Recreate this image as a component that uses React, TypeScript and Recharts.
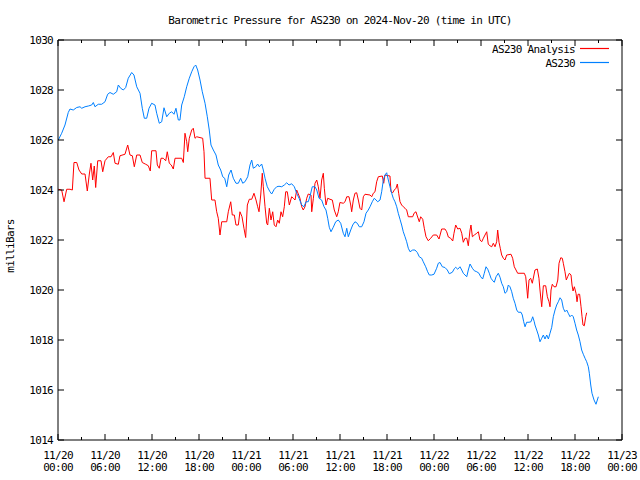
import { LineChart, Line, XAxis, YAxis } from "recharts";

const FONT = "'DejaVu Sans Mono', 'Liberation Mono', monospace";

// [hours since 11/20 00:00 UTC, millibars]
const analysis: [number, number][] = [
  [0.04, 1024.03], [0.47, 1024.0], [0.77, 1023.53], [1.11, 1024.03], [1.53, 1024.03], [1.83, 1024.0],
  [2.04, 1025.1], [2.39, 1025.1], [2.68, 1024.8], [3.03, 1024.64], [3.45, 1024.64], [3.74, 1023.96],
  [4.0, 1024.64], [4.21, 1025.07], [4.43, 1024.4], [4.63, 1024.96], [4.81, 1024.1], [5.07, 1025.17],
  [5.49, 1025.17], [5.71, 1024.73], [6.0, 1025.17], [6.42, 1025.33], [6.77, 1025.33], [7.06, 1025.5],
  [7.28, 1025.07], [7.7, 1025.03], [7.91, 1025.37], [8.55, 1025.43], [8.9, 1025.8], [9.19, 1025.4],
  [9.49, 1025.37], [9.74, 1024.93], [10.05, 1025.4], [10.47, 1025.4], [10.76, 1025.1], [11.2, 1025.03],
  [11.53, 1024.97], [11.78, 1024.76], [11.96, 1025.57], [12.51, 1025.57], [12.68, 1025.0], [12.93, 1024.87],
  [13.15, 1025.27], [13.44, 1025.27], [13.75, 1025.17], [13.95, 1025.53], [14.21, 1025.07], [14.46, 1025.0],
  [14.72, 1024.84], [14.94, 1025.27], [15.79, 1025.27], [16.0, 1025.1], [16.21, 1026.27], [16.43, 1025.93],
  [16.56, 1025.53], [16.76, 1026.07], [17.07, 1026.4], [17.27, 1026.47], [17.49, 1026.07], [17.71, 1026.13],
  [18.47, 1026.07], [18.64, 1025.53], [18.77, 1024.47], [19.4, 1024.47], [19.62, 1023.6], [20.04, 1023.6],
  [20.26, 1023.13], [20.46, 1022.87], [20.68, 1022.2], [20.9, 1022.73], [21.54, 1022.73], [21.74, 1023.13],
  [22.05, 1023.53], [22.25, 1023.0], [22.51, 1023.0], [22.72, 1022.6], [23.02, 1022.6], [23.23, 1023.13],
  [23.49, 1022.93], [23.74, 1022.47], [23.96, 1022.1], [24.17, 1023.4], [24.42, 1023.63], [24.73, 1023.63],
  [25.02, 1023.87], [25.28, 1023.6], [25.49, 1023.33], [25.66, 1023.13], [25.88, 1023.8], [26.08, 1024.67],
  [26.21, 1024.13], [26.43, 1023.33], [26.64, 1022.67], [26.77, 1022.6], [26.98, 1023.27], [27.19, 1022.8],
  [27.41, 1023.13], [27.61, 1022.6], [27.83, 1022.53], [28.04, 1022.8], [28.25, 1022.67], [28.47, 1023.13],
  [28.68, 1022.93], [28.89, 1023.33], [29.07, 1023.93], [29.27, 1023.93], [29.53, 1023.4], [29.83, 1023.73],
  [30.04, 1023.67], [30.26, 1023.6], [30.47, 1024.0], [30.68, 1023.84], [30.89, 1023.67], [31.11, 1023.33],
  [31.31, 1023.2], [31.53, 1023.33], [31.75, 1023.67], [31.95, 1023.84], [32.3, 1023.8], [32.39, 1023.13],
  [32.6, 1023.67], [32.81, 1024.27], [33.03, 1024.4], [33.23, 1024.13], [33.45, 1023.67], [33.66, 1024.4],
  [33.87, 1024.67], [34.0, 1024.07], [34.21, 1023.4], [34.43, 1023.67], [34.72, 1023.63], [35.02, 1023.6],
  [35.27, 1023.2], [35.58, 1022.93], [35.78, 1023.13], [35.99, 1023.5], [36.42, 1023.47], [36.64, 1023.53],
  [36.86, 1023.73], [37.15, 1023.73], [37.37, 1023.4], [37.49, 1023.13], [37.7, 1023.6], [37.91, 1023.87],
  [38.13, 1023.89], [38.34, 1023.6], [38.55, 1023.27], [38.77, 1023.2], [38.98, 1023.73], [39.19, 1023.83],
  [39.83, 1023.8], [40.05, 1023.73], [40.25, 1023.87], [40.47, 1023.93], [40.68, 1024.33], [40.89, 1024.53],
  [41.4, 1024.56], [41.58, 1024.27], [41.74, 1024.6], [42.38, 1024.56], [42.51, 1023.93], [42.73, 1023.89],
  [42.93, 1024.0], [43.15, 1024.07], [43.32, 1024.24], [43.49, 1023.87], [43.66, 1023.53], [43.87, 1023.4],
  [44.08, 1023.33], [44.3, 1023.27], [44.51, 1023.2], [44.72, 1022.93], [45.28, 1022.93], [45.45, 1023.07],
  [45.7, 1023.13], [45.87, 1022.96], [46.12, 1022.73], [46.3, 1022.93], [46.56, 1022.83], [46.76, 1022.47],
  [46.98, 1022.13], [47.27, 1021.97], [47.58, 1022.07], [47.91, 1022.2], [48.34, 1022.2], [48.64, 1022.04],
  [48.98, 1022.44], [49.4, 1022.44], [49.62, 1022.33], [49.83, 1022.12], [50.13, 1022.07], [50.39, 1021.96],
  [50.55, 1022.27], [50.77, 1022.6], [51.03, 1022.44], [51.32, 1022.47], [51.54, 1022.27], [51.74, 1021.91],
  [51.96, 1022.07], [52.18, 1022.07], [52.38, 1021.77], [52.6, 1022.4], [52.72, 1022.6], [52.9, 1022.13],
  [53.15, 1022.2], [53.46, 1022.27], [53.66, 1022.33], [53.87, 1022.0], [54.09, 1021.93], [54.3, 1022.07],
  [54.51, 1022.2], [54.73, 1022.33], [54.93, 1021.83], [55.15, 1021.77], [55.37, 1021.73], [55.57, 1021.87],
  [55.79, 1021.73], [56.0, 1021.93], [56.13, 1022.4], [56.3, 1021.91], [56.46, 1021.67], [56.64, 1021.4],
  [56.85, 1021.27], [57.06, 1021.2], [57.28, 1021.4], [57.83, 1021.43], [58.04, 1021.27], [58.25, 1020.93],
  [58.47, 1020.8], [58.68, 1020.67], [59.53, 1020.67], [59.71, 1020.53], [59.87, 1020.0], [59.96, 1019.67],
  [60.13, 1020.4], [60.34, 1020.47], [60.55, 1020.27], [60.89, 1020.8], [61.19, 1020.84], [61.4, 1020.47],
  [61.53, 1020.0], [61.75, 1019.33], [61.96, 1020.17], [62.26, 1020.17], [62.47, 1019.73], [62.68, 1019.53],
  [62.81, 1019.33], [62.94, 1020.0], [63.1, 1020.23], [63.32, 1020.13], [63.58, 1020.13], [63.8, 1020.4],
  [63.96, 1021.07], [64.18, 1021.29], [64.38, 1021.27], [64.51, 1021.07], [64.72, 1020.73], [64.89, 1020.4],
  [65.06, 1020.53], [65.28, 1020.67], [65.49, 1020.6], [65.62, 1020.2], [65.75, 1019.96], [65.92, 1020.13],
  [66.13, 1019.87], [66.26, 1019.53], [66.39, 1019.83], [66.59, 1019.83], [66.77, 1019.33], [66.9, 1018.93],
  [67.02, 1018.6], [67.19, 1018.57], [67.37, 1018.93], [67.49, 1019.09],
];

const observed: [number, number][] = [
  [0.04, 1026.0], [0.47, 1026.27], [0.89, 1026.6], [1.31, 1027.1], [1.53, 1027.24], [1.95, 1027.2],
  [2.39, 1027.3], [2.81, 1027.33], [3.03, 1027.27], [3.45, 1027.33], [3.87, 1027.36], [4.3, 1027.4],
  [4.51, 1027.5], [4.72, 1027.33], [5.14, 1027.43], [5.58, 1027.43], [6.0, 1027.53], [6.34, 1027.83],
  [6.64, 1027.9], [7.06, 1027.83], [7.49, 1027.93], [7.7, 1028.2], [8.0, 1028.07], [8.34, 1028.0],
  [8.64, 1028.1], [8.97, 1028.47], [9.41, 1028.7], [9.7, 1028.6], [10.05, 1028.13], [10.47, 1027.87],
  [10.76, 1027.27], [11.02, 1026.87], [11.32, 1026.87], [11.62, 1027.27], [11.96, 1027.47], [12.38, 1027.4],
  [12.6, 1027.07], [12.93, 1026.67], [13.24, 1026.73], [13.53, 1027.29], [13.88, 1026.93], [14.21, 1027.07],
  [14.51, 1027.13], [14.81, 1027.03], [15.06, 1027.27], [15.36, 1026.8], [15.57, 1026.8], [15.79, 1027.4],
  [16.12, 1027.73], [16.43, 1028.13], [16.76, 1028.47], [17.07, 1028.73], [17.36, 1028.93], [17.58, 1029.0],
  [17.83, 1028.8], [18.13, 1028.4], [18.42, 1027.93], [18.77, 1027.47], [19.06, 1026.93], [19.31, 1026.4],
  [19.53, 1025.8], [19.83, 1025.6], [20.17, 1025.4], [20.46, 1025.0], [20.77, 1024.8], [21.03, 1024.53],
  [21.28, 1024.47], [21.54, 1024.13], [21.79, 1024.6], [22.09, 1024.8], [22.38, 1024.47], [22.72, 1024.27],
  [23.02, 1024.27], [23.32, 1024.47], [23.58, 1024.27], [23.87, 1024.33], [24.22, 1024.53], [24.51, 1025.0],
  [24.73, 1025.2], [24.93, 1024.87], [25.24, 1024.93], [25.49, 1025.04], [25.7, 1024.93], [26.0, 1025.04],
  [26.21, 1024.8], [26.43, 1024.47], [26.72, 1024.13], [27.06, 1023.93], [27.28, 1023.84], [27.61, 1024.03],
  [27.92, 1024.13], [28.21, 1024.15], [28.56, 1024.13], [28.89, 1024.2], [29.2, 1024.29], [29.49, 1024.2],
  [29.83, 1024.25], [30.17, 1024.13], [30.47, 1023.87], [30.77, 1023.67], [31.11, 1023.4], [31.4, 1023.33],
  [31.66, 1023.53], [31.95, 1023.53], [32.21, 1023.8], [32.46, 1024.13], [32.81, 1024.13], [33.03, 1024.0],
  [33.32, 1023.67], [33.66, 1023.6], [33.96, 1023.33], [34.21, 1023.2], [34.43, 1022.87], [34.63, 1022.51],
  [34.85, 1022.33], [35.14, 1022.51], [35.45, 1022.73], [35.78, 1022.8], [36.09, 1022.67], [36.42, 1022.27],
  [36.64, 1022.13], [36.86, 1022.47], [37.06, 1022.13], [37.37, 1022.4], [37.62, 1022.6], [37.91, 1022.73],
  [38.21, 1022.67], [38.46, 1022.53], [38.77, 1022.53], [39.06, 1022.73], [39.32, 1023.07], [39.61, 1023.2],
  [39.83, 1023.33], [40.12, 1023.53], [40.38, 1023.67], [40.6, 1023.6], [40.81, 1023.53], [41.11, 1023.6],
  [41.32, 1023.93], [41.53, 1024.4], [41.74, 1024.6], [41.96, 1024.69], [42.17, 1024.4], [42.38, 1024.13],
  [42.6, 1023.87], [42.8, 1023.67], [43.02, 1023.53], [43.24, 1023.33], [43.44, 1023.07], [43.66, 1022.83],
  [43.87, 1022.6], [44.08, 1022.33], [44.3, 1022.13], [44.51, 1021.93], [44.72, 1021.67], [44.94, 1021.53],
  [45.28, 1021.6], [45.57, 1021.6], [45.87, 1021.5], [46.12, 1021.33], [46.43, 1021.27], [46.63, 1021.13],
  [46.94, 1020.93], [47.19, 1020.73], [47.4, 1020.6], [47.7, 1020.6], [48.0, 1020.63], [48.34, 1020.87],
  [48.55, 1021.07], [48.77, 1021.1], [49.06, 1020.93], [49.4, 1020.9], [49.7, 1020.8], [49.95, 1020.65],
  [50.34, 1020.71], [50.59, 1020.85], [50.77, 1020.91], [51.03, 1020.83], [51.32, 1020.93], [51.54, 1020.8],
  [51.74, 1020.67], [51.96, 1020.6], [52.18, 1020.53], [52.38, 1020.8], [52.6, 1021.04], [52.9, 1020.87],
  [53.15, 1020.77], [53.46, 1020.73], [53.74, 1020.67], [53.96, 1020.53], [54.21, 1020.44], [54.42, 1020.67],
  [54.64, 1020.93], [54.86, 1020.83], [55.06, 1020.67], [55.28, 1020.47], [55.5, 1020.37], [55.7, 1020.31],
  [55.92, 1020.53], [56.21, 1020.67], [56.43, 1020.51], [56.64, 1020.27], [56.85, 1020.13], [57.06, 1019.87],
  [57.28, 1019.93], [57.49, 1020.2], [57.7, 1020.13], [57.92, 1019.93], [58.12, 1019.67], [58.34, 1019.47],
  [58.56, 1019.2], [58.76, 1019.11], [59.11, 1019.11], [59.27, 1019.0], [59.45, 1018.73], [59.62, 1018.53],
  [59.83, 1018.71], [60.13, 1018.71], [60.38, 1018.73], [60.6, 1018.93], [60.8, 1018.73], [60.89, 1018.6],
  [61.11, 1018.4], [61.32, 1018.2], [61.53, 1017.93], [61.75, 1018.07], [61.96, 1018.2], [62.17, 1018.04],
  [62.39, 1018.2], [62.6, 1018.04], [62.81, 1018.27], [63.03, 1018.51], [63.23, 1018.93], [63.45, 1019.2],
  [63.66, 1019.4], [63.87, 1019.53], [64.09, 1019.69], [64.3, 1019.6], [64.51, 1019.27], [64.72, 1019.13],
  [64.94, 1019.2], [65.14, 1019.07], [65.36, 1018.93], [65.58, 1019.0], [65.78, 1018.93], [66.0, 1018.67],
  [66.21, 1018.4], [66.42, 1018.2], [66.64, 1017.93], [66.85, 1017.6], [67.06, 1017.43], [67.28, 1017.27],
  [67.49, 1017.13], [67.7, 1016.93], [67.83, 1016.67], [68.01, 1016.2], [68.17, 1015.87], [68.43, 1015.6],
  [68.68, 1015.43], [68.85, 1015.6], [68.98, 1015.73],
];

const hourTicks = [0, 3, 6, 9, 12, 15, 18, 21, 24, 27, 30, 33, 36, 39, 42, 45, 48, 51, 54, 57, 60, 63, 66, 69, 72];
const dayLabels = ["11/20", "11/20", "11/20", "11/20", "11/21", "11/21", "11/21", "11/21", "11/22", "11/22", "11/22", "11/22", "11/23"];
const timeLabels = ["00:00", "06:00", "12:00", "18:00", "00:00", "06:00", "12:00", "18:00", "00:00", "06:00", "12:00", "18:00", "00:00"];
const pressureTicks = [1014, 1016, 1018, 1020, 1022, 1024, 1026, 1028, 1030];

const series = [
  { name: "AS230 Analysis", color: "#ff0000" },
  { name: "AS230", color: "#0080ff" },
];

const analysisData = analysis.map(([t, p]) => ({ t, p }));
const observedData = observed.map(([t, p]) => ({ t, p }));

const textStyle = { fontFamily: FONT, fontSize: 11, letterSpacing: -0.7, fill: "#000" };

function BottomTick({ x, y, payload }: any) {
  const major = payload.value % 6 === 0;
  const i = payload.value / 6;
  return (
    <g>
      <line x1={x} x2={x} y1={y} y2={y - (major ? 6 : 3)} stroke="#000" />
      {major && (
        <>
          <text x={x} y={y + 19} textAnchor="middle" style={textStyle}>{dayLabels[i]}</text>
          <text x={x} y={y + 31} textAnchor="middle" style={textStyle}>{timeLabels[i]}</text>
        </>
      )}
    </g>
  );
}

function TopTick({ x, y, payload }: any) {
  const major = payload.value % 6 === 0;
  return <line x1={x} x2={x} y1={y} y2={y + (major ? 6 : 3)} stroke="#000" />;
}

function LeftTick({ x, y, payload }: any) {
  return (
    <g>
      <line x1={x} x2={x + 6} y1={y} y2={y} stroke="#000" />
      <text x={x - 5} y={y + 4} textAnchor="end" style={textStyle}>{payload.value}</text>
    </g>
  );
}

function RightTick({ x, y }: any) {
  return <line x1={x} x2={x - 6} y1={y} y2={y} stroke="#000" />;
}

export default function App() {
  return (
    <div style={{ position: "absolute", left: 0, top: 0, width: 640, height: 480, background: "#fff" }}>
      <LineChart width={640} height={480} margin={{ top: 30, right: 8, bottom: 30, left: 18 }}>
        <XAxis
          type="number"
          dataKey="t"
          domain={[0, 72]}
          allowDataOverflow
          ticks={hourTicks}
          interval={0}
          height={10}
          tickSize={0}
          tickMargin={0}
          tick={<BottomTick />}
          stroke="#000"
        />
        <XAxis
          xAxisId="top"
          orientation="top"
          type="number"
          dataKey="t"
          domain={[0, 72]}
          allowDataOverflow
          ticks={hourTicks}
          interval={0}
          height={10}
          tickSize={0}
          tickMargin={0}
          tick={<TopTick />}
          stroke="#000"
        />
        <YAxis
          type="number"
          domain={[1014, 1030]}
          allowDataOverflow
          ticks={pressureTicks}
          interval={0}
          width={40}
          tickSize={0}
          tickMargin={0}
          tick={<LeftTick />}
          stroke="#000"
        />
        <YAxis
          yAxisId="r"
          orientation="right"
          type="number"
          domain={[1014, 1030]}
          allowDataOverflow
          ticks={pressureTicks}
          interval={0}
          width={10}
          tickSize={0}
          tickMargin={0}
          tick={<RightTick />}
          stroke="#000"
        />
        <Line
          data={analysisData}
          dataKey="p"
          name={series[0].name}
          stroke={series[0].color}
          strokeWidth={1}
          dot={false}
          type="linear"
          isAnimationActive={false}
        />
        <Line
          data={observedData}
          dataKey="p"
          name={series[1].name}
          stroke={series[1].color}
          strokeWidth={1}
          dot={false}
          type="linear"
          isAnimationActive={false}
        />
        <text x={340} y={24} textAnchor="middle" style={textStyle}>
          Barometric Pressure for AS230 on 2024-Nov-20 (time in UTC)
        </text>
        <text x={14} y={246} textAnchor="middle" transform="rotate(-90 14 246)" style={textStyle}>
          milliBars
        </text>
        {/* key, top right inside the frame, as gnuplot draws it */}
        {series.map((s, i) => (
          <g key={s.name}>
            <text x={575} y={53 + i * 14} textAnchor="end" style={textStyle}>{s.name}</text>
            <path d={`M580,${48.5 + i * 14}H609`} fill="none" stroke={s.color} strokeWidth={1.2} />
          </g>
        ))}
      </LineChart>
    </div>
  );
}
